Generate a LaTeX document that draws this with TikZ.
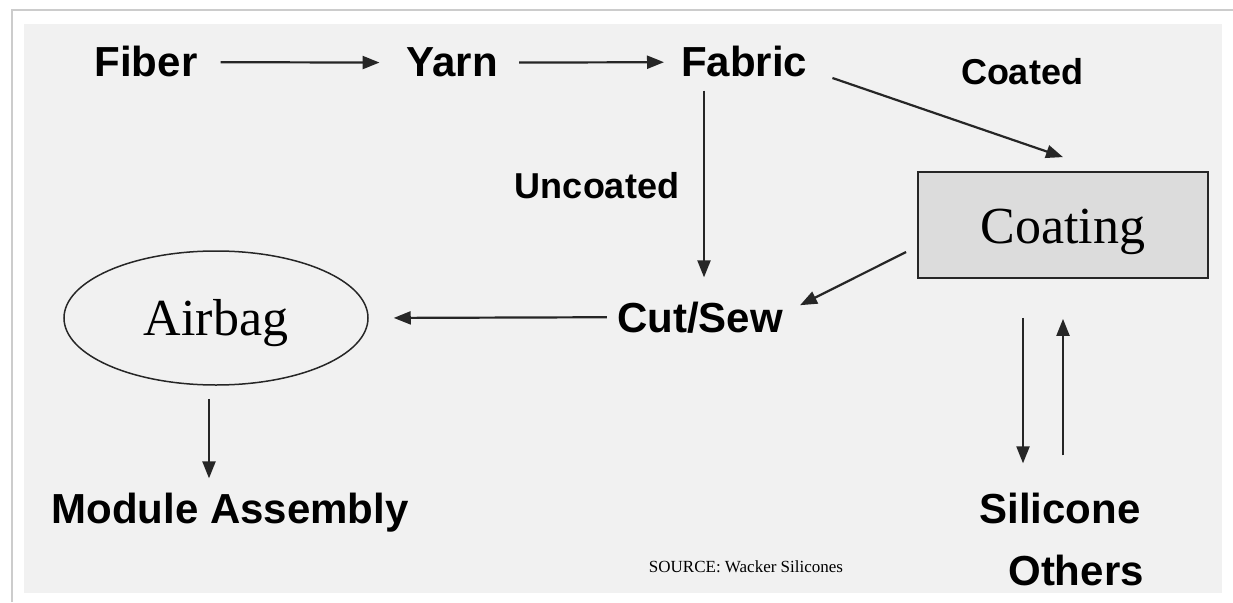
\documentclass[tikz,border=0pt]{standalone}
\usepackage{fontspec}
\setmainfont{Liberation Serif}
\setsansfont{Liberation Sans}
\usepackage{xcolor}
\usepackage{tikz}
\usetikzlibrary{shapes,arrows.meta,positioning,calc}

\definecolor{panel}{HTML}{F1F1F1}
\definecolor{framegray}{HTML}{CCCCCC}
\definecolor{boxgray}{HTML}{DCDCDC}
\definecolor{ink}{HTML}{262626}

\begin{document}
\begin{tikzpicture}[x=1pt, y=1pt,
    lbl/.style={inner sep=0pt, font=\sffamily\bfseries\fontsize{42}{50}\selectfont},
    tag/.style={inner sep=0pt, font=\sffamily\bfseries\fontsize{36}{43}\selectfont},
    box/.style={rectangle, draw=ink, line width=1.8pt, fill=boxgray, minimum width=290pt, minimum height=106pt, text height=36pt, text depth=0pt, font=\fontsize{52}{60}\selectfont},
    oval/.style={ellipse, draw=ink, line width=1.5pt, minimum width=304pt, minimum height=134pt, text height=34pt, text depth=0pt, font=\fontsize{52}{60}\selectfont},
    arrow/.style={-{Triangle[length=17pt,width=13pt]}, line width=2.2pt, draw=ink}
]

% page and grey panel
\useasboundingbox (0,0) rectangle (1233,-602);
\fill[white] (0,0) rectangle (1233,-602);
\draw[framegray, line width=2pt] (12,-602) -- (12,-10) -- (1233,-10);
\fill[panel] (24,-24) rectangle (1222,-593);

\node[lbl, anchor=base] (fiber) at (146,-77) {Fiber};
\node[lbl, base right=209pt of fiber] (yarn) {Yarn};
\node[lbl, base right=183pt of yarn] (fabric) {Fabric};

\node[box] (coating) at (1063,-225) {Coating};
\node[lbl, anchor=base] (cutsew) at (700,-332) {Cut/Sew};
\node[oval] (airbag) at (216,-318) {Airbag};
\node[lbl, anchor=base] (module) at (230,-523) {Module Assembly};
\node[lbl, anchor=base] (silicone) at (1060,-523) {Silicone};
\node[lbl, anchor=base] (others) at ([xshift=16pt,yshift=-62pt]silicone.base) {Others};

\node[tag, anchor=base] (coated) at (1022,-84) {Coated};
\node[tag, anchor=base] (uncoated) at (597,-198) {Uncoated};
\node[anchor=base, font=\fontsize{17}{20}\selectfont] (source) at (746,-572) {SOURCE: Wacker Silicones};

% flow
\draw[arrow, shorten <=23pt, shorten >=27pt] (fiber) -- (yarn);
\draw[arrow, shorten <=21pt, shorten >=17pt] (yarn) -- (fabric);
\draw[arrow] ([xshift=25pt,yshift=-16pt]fabric.east) -- ([yshift=14pt]coating.north);

\coordinate (drop) at ([xshift=23pt,yshift=-13pt]fabric.south west);
\draw[arrow, shorten >=24pt] (drop) -- (drop |- cutsew.north);
\draw[arrow] ([xshift=-11pt,yshift=-27pt]coating.west) -- ([xshift=17pt,yshift=12pt]cutsew.east);
\draw[arrow, shorten <=10pt, shorten >=25pt] (cutsew.west) -- (airbag.east);

\coordinate (drop2) at ([xshift=-7pt,yshift=-13pt]airbag.south);
\draw[arrow, shorten >=14pt] (drop2) -- (drop2 |- module.north);

% coating <-> silicone
\coordinate (down) at ([xshift=-40pt,yshift=-39pt]coating.south);
\draw[arrow, shorten >=29pt] (down) -- (down |- silicone.north);
\coordinate (up) at ([yshift=37pt]coating.south |- silicone.north);
\draw[arrow, shorten >=40pt] (up) -- (coating.south);

\end{tikzpicture}
\end{document}
